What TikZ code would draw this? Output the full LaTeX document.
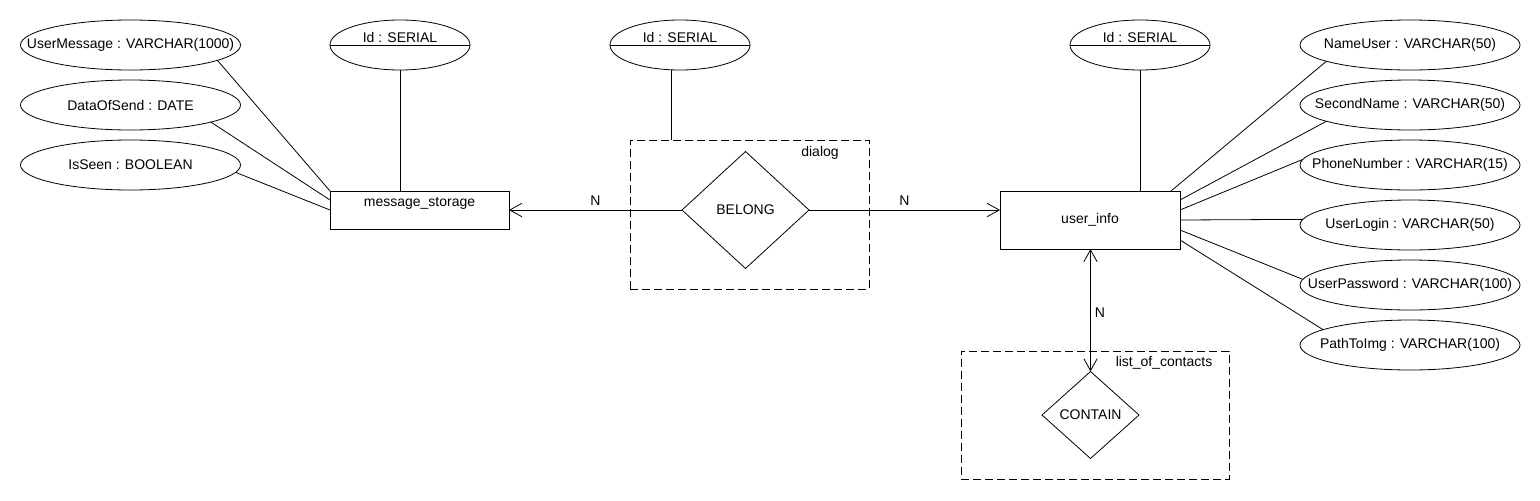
\documentclass[tikz,border=0pt]{standalone}
\usepackage{fontspec}
\setmainfont{Liberation Sans}
\usetikzlibrary{arrows.meta,shapes.geometric}

\tikzset{entity/.style={draw, rectangle, inner sep=0pt, outer sep=0pt},
    attribute/.style={draw, ellipse, minimum width=165pt, minimum height=37.5pt, inner sep=0pt, outer sep=0pt},
    key attribute/.style={draw, ellipse, minimum width=105pt, minimum height=37.5pt, inner sep=0pt, outer sep=0pt},
    key text/.style={anchor=base, yshift=5.5pt, inner sep=0pt},
    relation/.style={draw, diamond, inner sep=0pt, outer sep=0pt},
    group box/.style={draw, dash pattern=on 6pt off 3pt, inner sep=0pt, outer sep=0pt},
    group label/.style={inner sep=0pt},
    card label/.style={inner sep=3pt},
}

\begin{document}
\begin{tikzpicture}[x=0.75pt, y=-0.75pt, line width=0.6pt,
    font=\fontsize{10.5pt}{12pt}\selectfont,
    >={Straight Barb[length=9pt, width=10pt]}]

	\fill[white] (0, 0) rectangle (1540, 500);

	% message storage
	\node[entity, minimum width=134.25pt, minimum height=28.5pt,
	    label={[yshift=5pt]center:message\_storage}] (msg) at (419.5, 210) {};
	\node[key attribute, label={[key text]center:Id : SERIAL}] (idmsg) at (400, 45) {};
	\node[attribute, label={center:UserMessage : VARCHAR(1000)}] (usermessage) at (130.5, 45) {};
	\node[attribute, label={center:DataOfSend : DATE}] (dataofsend) at (130.5, 105) {};
	\node[attribute, label={center:IsSeen : BOOLEAN}] (isseen) at (130.5, 165) {};

	\draw (idmsg.south) -- (idmsg.south |- msg.north);
	\draw (usermessage.-10) -- (msg.north west);
	\draw (dataofsend.-12) -- ([yshift=7.5pt]msg.west);
	\draw (isseen.-4) -- (msg.west);

	% user info
	\node[entity, minimum width=135pt, minimum height=43.5pt] (user) at (1090, 220) {user\_info};
	\node[key attribute, label={[key text]center:Id : SERIAL}] (iduser) at (1140, 45) {};
	\foreach \name/\txt [count=\i from 0] in {nameuser/NameUser : VARCHAR(50),
	    secondname/SecondName : VARCHAR(50), phonenumber/PhoneNumber : VARCHAR(15),
	    userlogin/UserLogin : VARCHAR(50), userpassword/UserPassword : VARCHAR(100),
	    pathtoimg/PathToImg : VARCHAR(100)} {
		\node[attribute, label={center:\txt}] (\name) at (1410, 45+60*\i) {};
	}

	\draw (iduser.south) -- (iduser.south |- user.north);
	\draw ([xshift=-6.75pt]user.north east) -- (nameuser.191);
	\draw ([yshift=15pt]user.east) -- (secondname.191);
	\draw ([yshift=7.5pt]user.east) -- (phonenumber.177);
	\draw (user.east) -- (userlogin.177);
	\draw ([yshift=-7.5pt]user.east) -- (userpassword.177);
	\draw ([yshift=-15pt]user.east) -- (pathtoimg.170);

	% dialog
	\node[group box, minimum width=179.25pt, minimum height=111.75pt] (dialog) at (749.5, 214.5) {};
	\node[group label] (dialoglabel) at (820, 153) {dialog};
	\node[relation, minimum width=95.25pt, minimum height=87.75pt] (belong) at (745.5, 210) {BELONG};
	\node[key attribute, label={[key text]center:Id : SERIAL}] (iddialog) at (680, 45) {};

	\draw (iddialog.-110) -- (iddialog.-110 |- dialog.north);
	\draw[->] (belong) -- node[card label, above] (nmsg) {N} (msg);
	\draw[->] (belong.east) -- node[card label, above] (nuser) {N} (belong.east -| user.west);

	% list of contacts
	\node[group box, minimum width=201pt, minimum height=96pt] (contacts) at (1095, 415) {};
	\node[group label] (contactslabel) at (1164, 363) {list\_of\_contacts};
	\node[relation, minimum width=72.75pt, minimum height=65.25pt] (contain) at (1090.5, 415) {CONTAIN};

	\draw[<->] (contain.north) -- node[card label, right, pos=0.48] (ncontact) {N} (contain.north |- user.south);

	% key lines
	\foreach \n in {idmsg, iddialog, iduser} {
		\draw (\n.west) -- (\n.east);
	}
\end{tikzpicture}
\end{document}
